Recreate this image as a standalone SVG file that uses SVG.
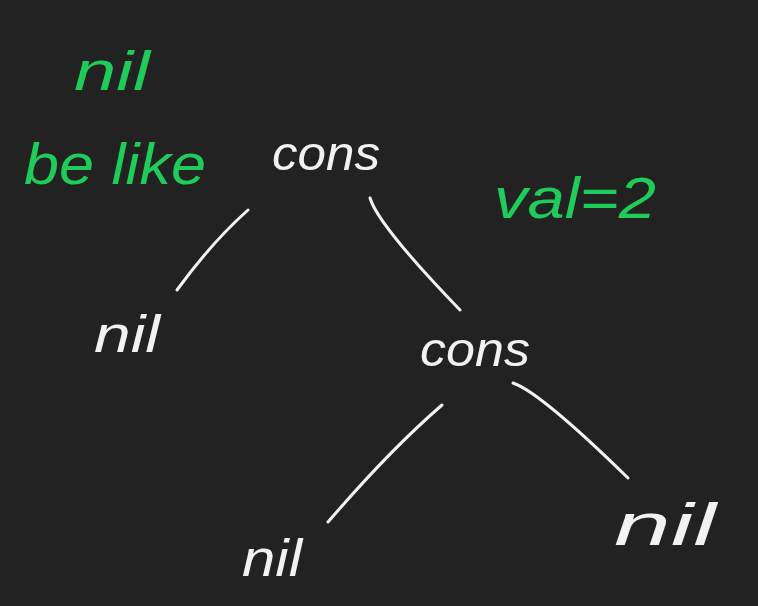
<svg xmlns="http://www.w3.org/2000/svg" width="758" height="606" viewBox="0 0 758 606">
<style>
.t{font-family:"Liberation Sans","DejaVu Sans",sans-serif;font-style:italic;}
.w{fill:#f2f2f2;}
.g{fill:#1fcc5a;}
.e{fill:none;stroke:#f2f2f2;stroke-width:3;stroke-linecap:round;}
</style>
<rect width="758" height="606" fill="#222222"/>
<g id="note-nil-be-like">
<text class="t g" x="74" y="90" font-size="56" textLength="76" lengthAdjust="spacingAndGlyphs">nil</text>
<text class="t g" x="24" y="184" font-size="58" textLength="182" lengthAdjust="spacingAndGlyphs">be like</text>
</g>
<g id="note-val">
<text class="t g" x="494" y="218" font-size="58" textLength="162" lengthAdjust="spacingAndGlyphs">val=2</text>
</g>
<g id="connectors">
<path class="e" d="M248 210 Q212 242 177 290"/>
<path class="e" d="M370 198 Q378 225 460 310"/>
<path class="e" d="M442 405 Q390 450 328 522"/>
<path class="e" d="M513 383 Q540 392 628 478"/>
</g>
<g id="node-cons-1">
<text class="t w" x="272" y="170" font-size="48" textLength="108" lengthAdjust="spacingAndGlyphs">cons</text>
</g>
<g id="node-nil-1">
<text class="t w" x="94" y="352" font-size="52" textLength="66" lengthAdjust="spacingAndGlyphs">nil</text>
</g>
<g id="node-cons-2">
<text class="t w" x="420" y="366" font-size="48" textLength="110" lengthAdjust="spacingAndGlyphs">cons</text>
</g>
<g id="node-nil-2">
<text class="t w" x="242" y="576" font-size="52" textLength="60" lengthAdjust="spacingAndGlyphs">nil</text>
</g>
<g id="node-nil-3">
<text class="t w" x="614" y="545" font-size="60" textLength="102" lengthAdjust="spacingAndGlyphs">nil</text>
</g>
</svg>
